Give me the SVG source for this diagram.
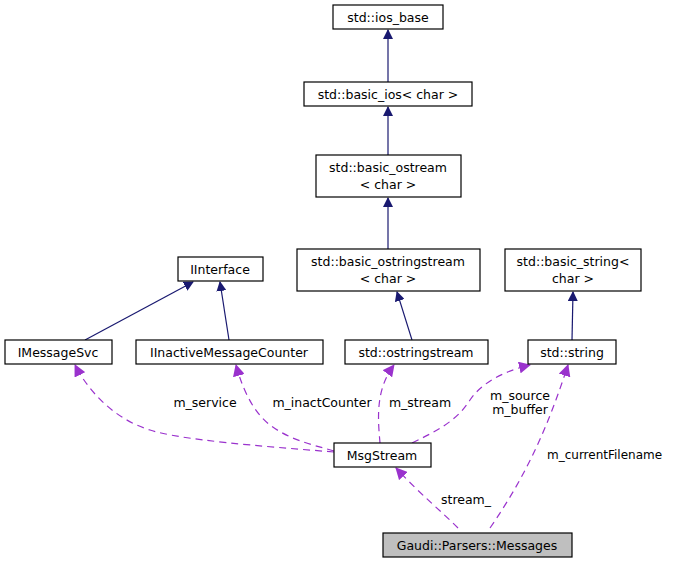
<svg xmlns="http://www.w3.org/2000/svg" width="677" height="564" viewBox="0 0 677 564">
<style>
.n rect{fill:#fff;stroke:#000;stroke-width:1.2}
.g rect{fill:#bfbfbf}
text{font-family:"DejaVu Sans",sans-serif;font-size:12.5px;text-anchor:middle}
.inh{stroke:#191970;fill:none;stroke-width:1.2}
.use{stroke:#9a32cd;fill:none;stroke-width:1.2;stroke-dasharray:7,5}
</style>
<defs>
<marker id="ai" markerWidth="10" markerHeight="10" refX="9" refY="5" orient="auto" markerUnits="userSpaceOnUse"><path d="M0,0L10,5L0,10z" fill="#191970"/></marker>
<marker id="au" markerWidth="12" markerHeight="12" refX="11" refY="6" orient="auto" markerUnits="userSpaceOnUse"><path d="M0,0L12,6L0,12z" fill="#9a32cd"/></marker>
</defs>
<g id="edges">
<path class="inh" d="M388,82V30" marker-end="url(#ai)"/>
<path class="inh" d="M388,155V107" marker-end="url(#ai)"/>
<path class="inh" d="M388,249V198" marker-end="url(#ai)"/>
<path class="inh" d="M412,340L397,292" marker-end="url(#ai)"/>
<path class="inh" d="M572,340L573,292" marker-end="url(#ai)"/>
<path class="inh" d="M85,340L193,282" marker-end="url(#ai)"/>
<path class="inh" d="M229,340L220,282" marker-end="url(#ai)"/>
<path class="use" d="M334,452C260,446 180,440 150,430C110,418 85,385 75,365" marker-end="url(#au)"/>
<path class="use" d="M334,451C310,444 290,440 270,425C250,410 240,380 236,365" marker-end="url(#au)"/>
<path class="use" d="M380,443C378,420 375,390 394,365" marker-end="url(#au)"/>
<path class="use" d="M412,443C450,425 460,415 470,400C480,385 500,372 530,365" marker-end="url(#au)"/>
<path class="use" d="M490,528C530,470 550,420 568,365" marker-end="url(#au)"/>
<path class="use" d="M458,528C440,510 420,494 396,468" marker-end="url(#au)"/>
</g>
<g id="n1" class="n"><rect x="333" y="5" width="110" height="24"/><text x="388" y="22">std::ios_base</text></g>
<g id="n2" class="n"><rect x="304" y="82" width="168" height="24"/><text x="388" y="99">std::basic_ios&lt; char &gt;</text></g>
<g id="n3" class="n"><rect x="316" y="155" width="145" height="42"/><text x="388" y="172">std::basic_ostream</text><text x="388" y="189">&lt; char &gt;</text></g>
<g id="n4" class="n"><rect x="297" y="249" width="183" height="42"/><text x="388" y="266">std::basic_ostringstream</text><text x="388" y="283">&lt; char &gt;</text></g>
<g id="n5" class="n"><rect x="505" y="249" width="136" height="42"/><text x="573" y="266">std::basic_string&lt;</text><text x="573" y="283">char &gt;</text></g>
<g id="n6" class="n"><rect x="178" y="257" width="85" height="24"/><text x="220" y="274">IInterface</text></g>
<g id="n7" class="n"><rect x="5" y="340" width="107" height="24"/><text x="58" y="357">IMessageSvc</text></g>
<g id="n8" class="n"><rect x="136" y="340" width="187" height="24"/><text x="229" y="357">IInactiveMessageCounter</text></g>
<g id="n9" class="n"><rect x="345" y="340" width="143" height="24"/><text x="416" y="357">std::ostringstream</text></g>
<g id="n10" class="n"><rect x="528" y="340" width="88" height="24"/><text x="572" y="357">std::string</text></g>
<g id="n11" class="n"><rect x="334" y="443" width="97" height="24"/><text x="382" y="460">MsgStream</text></g>
<g id="n12" class="n g"><rect x="383" y="533" width="189" height="24"/><text x="477" y="550">Gaudi::Parsers::Messages</text></g>
<g id="labels">
<text x="205" y="407">m_service</text>
<text x="322" y="407">m_inactCounter</text>
<text x="420" y="407">m_stream</text>
<text x="520" y="400">m_source</text>
<text x="520" y="414">m_buffer</text>
<text x="547" y="459" style="text-anchor:start;font-size:12px">m_currentFilename</text>
<text x="466" y="504">stream_</text>
</g>
</svg>
